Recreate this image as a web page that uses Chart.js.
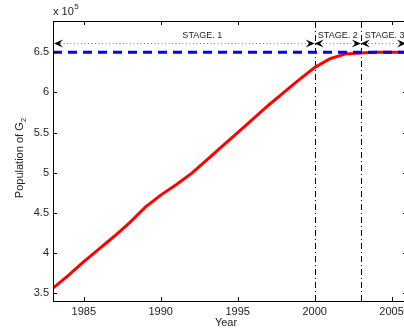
<!DOCTYPE html>
<html>
<head>
<meta charset="utf-8">
<script src="https://cdn.jsdelivr.net/npm/chart.js@4.4.1/dist/chart.umd.min.js"></script>
<style>
  html, body { margin: 0; padding: 0; background: #fff; overflow: hidden; width: 404px; height: 331px; }
  #wrap { position: relative; width: 412px; height: 331px; }
</style>
</head>
<body>
<div id="wrap"><canvas id="c" width="412" height="331"></canvas></div>
<script>
// ---- data (population in units of 10^5) ----
const years = [1983,1984,1985,1986,1987,1988,1989,1990,1991,1992,1993,1994,1995,1996,1997,1998,1999,2000,2001,2002,2003,2004,2005,2006];
const population = [3.56,3.72,3.89,4.05,4.21,4.38,4.57,4.72,4.85,4.99,5.16,5.33,5.50,5.67,5.84,6.00,6.16,6.31,6.42,6.48,6.49,6.50,6.50,6.50];
const capacityYears = [1983, 2006];
const capacity = [6.5, 6.5];
const xTicks = [1985, 1990, 1995, 2000, 2005];
const yTicks = [3.5, 4, 4.5, 5, 5.5, 6, 6.5];
const stageBounds = [2000, 2003];
const stageLabels = ['STAGE. 1', 'STAGE. 2', 'STAGE. 3'];
const stageLabelYears = [1992.7, 2001.5, 2004.55];
const arrowLevel = 6.61;
const stageLabelLevel = 6.71;

const FONT = '"Liberation Sans", Arial, Helvetica, sans-serif';

const overlay = {
  id: 'overlay',
  beforeDatasetsDraw(chart) {
    const {ctx, chartArea: a, scales: {x, y}} = chart;
    ctx.save();
    // vertical dash-dot stage lines
    ctx.strokeStyle = '#000';
    ctx.lineWidth = 1;
    ctx.setLineDash([6, 3, 1, 3]);
    stageBounds.forEach(b => {
      const px = Math.round(x.getPixelForValue(b)) + 0.5;
      ctx.beginPath();
      ctx.moveTo(px, a.bottom);
      ctx.lineTo(px, a.top);
      ctx.stroke();
    });
    // dotted arrow line
    const ay = Math.round(y.getPixelForValue(arrowLevel)) + 0.5;
    ctx.strokeStyle = '#777';
    ctx.setLineDash([1, 2.5]);
    ctx.beginPath();
    ctx.moveTo(x.getPixelForValue(years[0]), ay);
    ctx.lineTo(x.getPixelForValue(years[years.length - 1]), ay);
    ctx.stroke();
    ctx.setLineDash([]);
    // arrowheads
    const arrow = (tipX, yy, dir) => {
      ctx.beginPath();
      ctx.moveTo(tipX, yy);
      ctx.lineTo(tipX - dir * 9, yy - 4);
      ctx.lineTo(tipX - dir * 5.5, yy);
      ctx.lineTo(tipX - dir * 9, yy + 4);
      ctx.closePath();
      ctx.fill();
    };
    ctx.fillStyle = '#000';
    arrow(x.getPixelForValue(years[0]) + 1, ay, -1);
    stageBounds.forEach(b => {
      const px = x.getPixelForValue(b);
      arrow(px, ay, 1);
      arrow(px, ay, -1);
    });
    arrow(x.getPixelForValue(years[years.length - 1]) - 1, ay, 1);
    // stage labels
    ctx.fillStyle = '#222';
    ctx.font = '9px ' + FONT;
    ctx.textAlign = 'center';
    ctx.textBaseline = 'middle';
    const ly = y.getPixelForValue(stageLabelLevel);
    stageLabels.forEach((s, i) => ctx.fillText(s, x.getPixelForValue(stageLabelYears[i]), ly));
    ctx.restore();
  },
  afterDraw(chart) {
    const {ctx, chartArea: a, scales: {x, y}} = chart;
    ctx.save();
    ctx.strokeStyle = '#000';
    ctx.lineWidth = 1;
    // frame
    ctx.strokeRect(Math.round(a.left) + 0.5, Math.round(a.top) + 0.5, Math.round(a.right - a.left), Math.round(a.bottom - a.top));
    // inward ticks
    ctx.beginPath();
    xTicks.forEach(t => {
      const px = Math.round(x.getPixelForValue(t)) + 0.5;
      ctx.moveTo(px, a.bottom); ctx.lineTo(px, a.bottom - 4);
      ctx.moveTo(px, a.top); ctx.lineTo(px, a.top + 4);
    });
    yTicks.forEach(t => {
      const py = Math.round(y.getPixelForValue(t)) + 0.5;
      ctx.moveTo(a.left, py); ctx.lineTo(a.left + 4, py);
      ctx.moveTo(a.right, py); ctx.lineTo(a.right - 4, py);
    });
    ctx.stroke();
    // titles
    ctx.fillStyle = '#222';
    ctx.font = '11px ' + FONT;
    ctx.textBaseline = 'middle';
    ctx.textAlign = 'center';
    ctx.fillText('Year', (x.getPixelForValue(years[0]) + x.getPixelForValue(years[years.length-1])) / 2 - 4, 323);
    // y title with subscript
    ctx.save();
    ctx.translate(20, (a.top + a.bottom) / 2 - 3);
    ctx.rotate(-Math.PI / 2);
    const main = 'Population of G';
    ctx.font = '11px ' + FONT;
    const w1 = ctx.measureText(main).width;
    ctx.font = '8px ' + FONT;
    const w2 = ctx.measureText('2').width;
    const start = -(w1 + w2) / 2;
    ctx.textAlign = 'left';
    ctx.font = '11px ' + FONT;
    ctx.fillText(main, start, 0);
    ctx.font = '8px ' + FONT;
    ctx.fillText('2', start + w1, 4);
    ctx.restore();
    // exponent label
    ctx.textAlign = 'left';
    ctx.font = '11px ' + FONT;
    const ex = 'x 10';
    ctx.fillText(ex, a.left, 12);
    const we = ctx.measureText(ex).width;
    ctx.font = '8px ' + FONT;
    ctx.fillText('5', a.left + we + 0.5, 7);
    ctx.restore();
  }
};

new Chart(document.getElementById('c'), {
  type: 'line',
  data: {
    datasets: [
      {
        label: 'Capacity',
        data: capacityYears.map((yr, i) => ({x: yr, y: capacity[i]})),
        borderColor: '#0000ff',
        borderWidth: 3,
        borderDash: [9, 6],
        pointRadius: 0,
        fill: false
      },
      {
        label: 'Population of G2',
        data: years.map((yr, i) => ({x: yr, y: population[i]})),
        borderColor: '#ff0000',
        borderWidth: 3,
        pointRadius: 0,
        tension: 0,
        fill: false
      }
    ]
  },
  options: {
    responsive: false,
    animation: false,
    events: [],
    layout: { padding: { top: 21, right: 5, left: 0, bottom: 0 } },
    plugins: { legend: { display: false }, tooltip: { enabled: false }, title: { display: false } },
    scales: {
      x: {
        type: 'linear',
        min: 1983,
        max: 2006,
        grid: { display: false, drawTicks: false, tickLength: 0 },
        border: { display: false },
        afterBuildTicks: s => { s.ticks = xTicks.map(v => ({value: v})); },
        afterFit: s => { s.height = 30; },
        ticks: { color: '#222', font: { family: FONT, size: 11 }, padding: 4, maxRotation: 0, autoSkip: false, callback: v => String(v) }
      },
      y: {
        type: 'linear',
        min: 3.4,
        max: 6.89,
        grid: { display: false, drawTicks: false, tickLength: 0 },
        border: { display: false },
        afterBuildTicks: s => { s.ticks = yTicks.map(v => ({value: v})); },
        afterFit: s => { s.width = 53; },
        ticks: { color: '#222', font: { family: FONT, size: 11 }, padding: 4, autoSkip: false, callback: v => String(v) }
      }
    }
  },
  plugins: [overlay]
});
</script>
</body>
</html>
